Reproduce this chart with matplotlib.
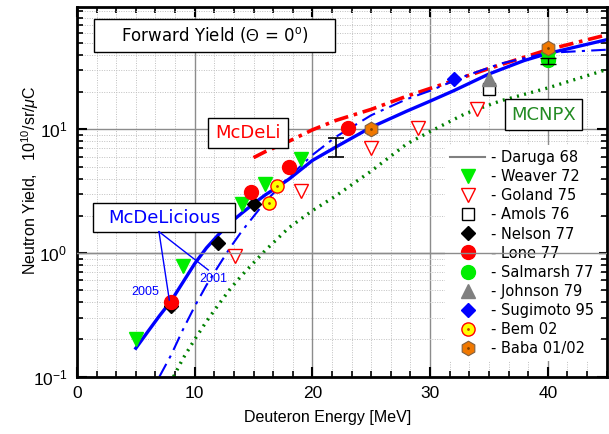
import numpy as np
import matplotlib
matplotlib.use('Agg')
import matplotlib.pyplot as plt
from matplotlib.lines import Line2D
from matplotlib.patches import Rectangle
from matplotlib.ticker import MultipleLocator, LogLocator, FixedLocator, FixedFormatter, NullFormatter

plt.rcParams['font.family'] = ['Liberation Sans', 'DejaVu Sans']
plt.rcParams['mathtext.fontset'] = 'custom'
plt.rcParams['mathtext.rm'] = 'Liberation Sans'
plt.rcParams['mathtext.it'] = 'Liberation Sans:italic'

# measured forward yields (E_d in MeV, yield in 1e10 n/sr/uC)
daruga_e = [22.0]
daruga_y = [7.2]
daruga_err = [[1.2], [1.3]]

weaver_e = [5, 9, 14, 16, 19, 40]
weaver_y = [0.2, 0.78, 2.5, 3.6, 5.8, 37]

goland_e = [13.4, 19, 25, 29, 34]
goland_y = [0.94, 3.2, 7.1, 10.3, 14.5]

amols_e = [35]
amols_y = [21]

nelson_e = [8, 12, 15]
nelson_y = [0.37, 1.2, 2.5]

lone_e = [8, 14.8, 18, 23]
lone_y = [0.4, 3.1, 5.0, 10.3]

salmarsh_e = [40]
salmarsh_y = [36]
salmarsh_err = [[2.0], [2.0]]

johnson_e = [35]
johnson_y = [25.3]
johnson_err = [[2.0], [6.0]]

sugimoto_e = [32]
sugimoto_y = [25.6]

bem_e = [16.3, 17]
bem_y = [2.55, 3.45]

baba_e = [25, 40]
baba_y = [10, 45]

# calculations
mcdelicious05_e = [5, 6, 7, 8, 9, 10, 11, 12, 13, 14, 15, 16, 17, 18, 20, 22, 25, 28, 30, 32, 35, 38, 40, 45]
mcdelicious05_y = [0.17, 0.23, 0.31, 0.41, 0.58, 0.82, 1.1, 1.4, 1.75, 2.1, 2.5, 2.95, 3.4, 3.95,
                   5.6, 7.2, 10.4, 14, 16.9, 20.5, 28, 36, 41, 53]

mcdelicious01_e = [7, 8, 9, 10, 11, 12, 13, 14, 16, 18, 20, 22, 25, 28, 30, 33, 36, 40, 45]
mcdelicious01_y = [0.1, 0.15, 0.24, 0.37, 0.55, 0.78, 1.1, 1.5, 2.6, 4.1, 6.2, 8.7, 13, 17.5,
                   20.5, 27, 34, 41.5, 44]

mcdeli_e = [15, 16, 18, 20, 22, 25, 28, 31, 35, 40, 45]
mcdeli_y = [5.9, 6.6, 8.0, 9.9, 11.8, 14.5, 18.5, 23, 31, 44, 58]

mcnpx_e = [8.2, 9, 10, 11, 12, 13, 14, 16, 18, 20, 22, 25, 28, 30, 33, 36, 40, 45]
mcnpx_y = [0.1, 0.14, 0.2, 0.28, 0.38, 0.51, 0.66, 1.05, 1.6, 2.2, 2.9, 4.6, 7.6, 9.6,
           13.4, 17, 21.6, 30.4]

ytick_vals = [0.1, 1, 10]
ytick_labels = ['$10^{-1}$', '$10^{0}$', '$10^{1}$']

fig = plt.figure(figsize=(6.09, 4.34), dpi=100)
ax = fig.add_axes([0.1264, 0.132, 0.8698, 0.8526])

ax.set_yscale('log')
ax.set_xlim(0, 45)
ax.set_ylim(0.1, 98)

# grid
ax.xaxis.set_major_locator(MultipleLocator(10))
ax.xaxis.set_minor_locator(MultipleLocator(10 / 6))
ax.yaxis.set_major_locator(FixedLocator(ytick_vals))
ax.yaxis.set_major_formatter(FixedFormatter(ytick_labels))
ax.yaxis.set_minor_locator(LogLocator(base=10, subs=np.arange(2, 10)))
ax.yaxis.set_minor_formatter(NullFormatter())
ax.grid(which='major', color='#8c8c8c', lw=1.0, ls='-', zorder=0)
ax.grid(which='minor', color='#c0c0c0', lw=0.7, ls=(0, (1, 1.5)), zorder=0)
ax.set_axisbelow(True)

for s in ax.spines.values():
    s.set_linewidth(2)
ax.tick_params(which='both', direction='in', top=True, right=True, labelsize=12.5)
ax.tick_params(which='major', length=7, width=1.5, pad=7)
ax.tick_params(which='minor', length=4, width=1.2)

# curves
ax.plot(mcnpx_e, mcnpx_y, color='#008000', lw=2.4, ls=(0, (0.6, 1.6)), zorder=2)
ax.plot(mcdeli_e, mcdeli_y, color='red', lw=2.6, ls=(0, (4, 1.6, 1, 1.6)), zorder=2)
ax.plot(mcdelicious01_e, mcdelicious01_y, color='blue', lw=1.5, ls=(0, (7, 3, 1.5, 3)), zorder=2)
ax.plot(mcdelicious05_e, mcdelicious05_y, color='blue', lw=2.4, zorder=2)

# data
ax.errorbar(daruga_e, daruga_y, yerr=daruga_err, fmt='none', ecolor='black', elinewidth=1.2,
            capsize=6, capthick=1.2, zorder=3)
ax.errorbar(johnson_e, johnson_y, yerr=johnson_err, fmt='none', ecolor='gray', elinewidth=1.2, zorder=3)
ax.errorbar(salmarsh_e, salmarsh_y, yerr=salmarsh_err, fmt='none', ecolor='black', elinewidth=1.0,
            capsize=6, zorder=5)

h_weaver, = ax.plot(weaver_e, weaver_y, 'v', ms=9.5, mfc='#00ee00', mec='#00ee00', zorder=4)
h_goland, = ax.plot(goland_e, goland_y, 'v', ms=9.5, mfc='white', mec='red', mew=1.0, zorder=4)
h_amols, = ax.plot(amols_e, amols_y, 's', ms=8, mfc='white', mec='black', mew=1.0, zorder=4)
h_nelson, = ax.plot(nelson_e, nelson_y, 'D', ms=7.5, mfc='black', mec='black', zorder=4)
h_lone, = ax.plot(lone_e, lone_y, 'o', ms=10, mfc='red', mec='red', zorder=5)
h_salmarsh, = ax.plot(salmarsh_e, salmarsh_y, 'o', ms=10, mfc='#00ee00', mec='#00ee00', zorder=4)
h_johnson, = ax.plot(johnson_e, johnson_y, '^', ms=9.5, mfc='gray', mec='gray', zorder=4)
h_sugimoto, = ax.plot(sugimoto_e, sugimoto_y, 'D', ms=7.5, mfc='blue', mec='blue', zorder=4)
h_bem, = ax.plot(bem_e, bem_y, 'o', ms=9.5, mfc='yellow', mec='red', mew=1.0, zorder=4)
h_bem_c, = ax.plot(bem_e, bem_y, '.', ms=2, color='#c04000', zorder=4)
h_baba, = ax.plot(baba_e, baba_y, 'h', ms=10.5, mfc='#f07800', mec='#806040', mew=0.8, zorder=4)
h_baba_c, = ax.plot(baba_e, baba_y, '.', ms=2, color='#804000', zorder=4)

h_daruga = Line2D([], [], color='gray', lw=1.5)

handles = [h_daruga, h_weaver, h_goland, h_amols, h_nelson, h_lone, h_salmarsh,
           h_johnson, h_sugimoto, (h_bem, h_bem_c), (h_baba, h_baba_c)]
labels = ['- Daruga 68', '- Weaver 72', '- Goland 75', '- Amols 76', '- Nelson 77',
          '- Lone 77', '- Salmarsh 77', '- Johnson 79', '- Sugimoto 95', '- Bem 02',
          '- Baba 01/02']
leg = ax.legend(handles, labels, loc='upper left', bbox_to_anchor=(0.695, 0.626),
                frameon=True, fancybox=False, framealpha=1, edgecolor='none',
                prop={'family': 'DejaVu Sans', 'size': 10.5}, borderpad=0.35,
                borderaxespad=0, labelspacing=0.28, handlelength=2.4, handletextpad=0.4)
leg.set_zorder(6)
ax.axhline(1.0, color='#8c8c8c', lw=1.0, zorder=7)

# labelled boxes
def box(x0, y0, x1, y1, text, color, size):
    ax.add_patch(Rectangle((x0, y0), x1 - x0, y1 - y0, transform=ax.transAxes,
                           fc='white', ec='black', lw=1.0, zorder=8))
    ax.text((x0 + x1) / 2, (y0 + y1) / 2, text, transform=ax.transAxes, color=color,
            fontsize=size, family='DejaVu Sans', ha='center', va='center', zorder=9)

box(0.032, 0.8776, 0.487, 0.9668, r'Forward Yield ($\Theta$ = 0$^{\mathrm{o}}$)', 'black', 12)
box(0.0308, 0.3919, 0.2983, 0.4686, 'McDeLicious', 'blue', 13)
box(0.2473, 0.6173, 0.3989, 0.6984, 'McDeLi', 'red', 13)
box(0.808, 0.6668, 0.9528, 0.7497, 'MCNPX', '#228b22', 13)

ax.plot([0.1548, 0.1743], [0.3919, 0.2073], color='blue', lw=1.0, transform=ax.transAxes, zorder=8)
ax.plot([0.1548, 0.2479], [0.3919, 0.2884], color='blue', lw=1.0, transform=ax.transAxes, zorder=8)
ax.text(0.128, 0.23, '2005', color='blue', fontsize=9, ha='center', va='center',
        transform=ax.transAxes, zorder=9)
ax.text(0.257, 0.263, '2001', color='blue', fontsize=9, ha='center', va='center',
        transform=ax.transAxes, zorder=9)

ax.set_xlabel('Deuteron Energy [MeV]', fontsize=11.5)
ax.set_ylabel('Neutron Yield,   $10^{10}$/sr/$\\mu$C', fontsize=11.5)
ax.xaxis.set_label_coords(0.473, -0.109)
ax.yaxis.set_label_coords(-0.089, 0.53)
ax.xaxis.label.set_va('center')
ax.yaxis.label.set_va('center')

fig.savefig('out.png', dpi=100)
